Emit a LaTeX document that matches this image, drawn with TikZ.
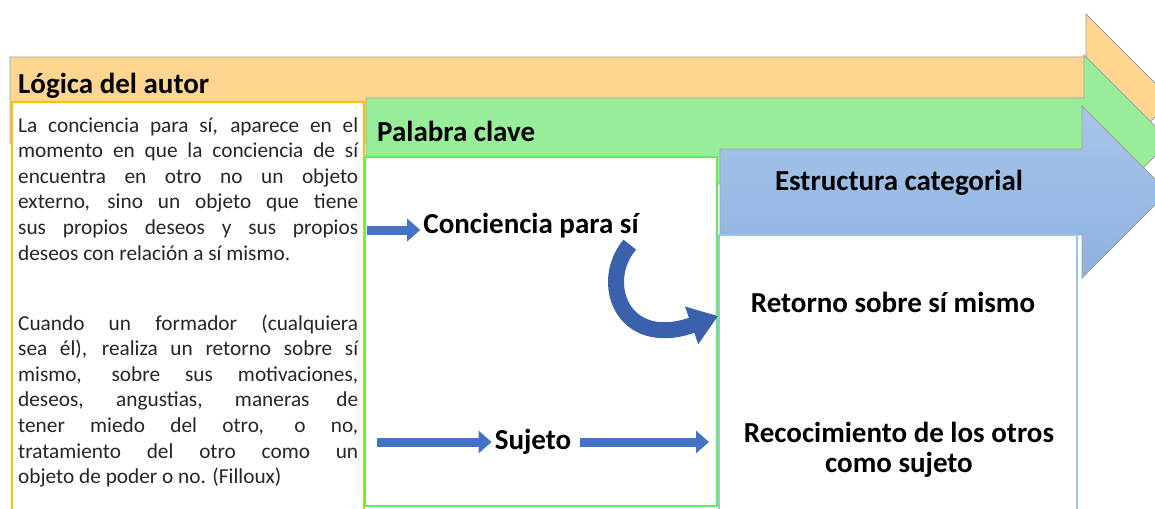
\documentclass[tikz,border=0pt]{standalone}
\usepackage{fontspec}
\setmainfont{Carlito}
\usetikzlibrary{arrows.meta}
\definecolor{naranja}{HTML}{FFD68F}
\definecolor{verde}{HTML}{98EE98}
\definecolor{azulsup}{HTML}{A8C5EA}
\definecolor{azulinf}{HTML}{8DB2E0}
\definecolor{gris}{HTML}{A0A0A0}
\definecolor{ambar}{HTML}{FFC000}
\definecolor{verdelinea}{HTML}{5CF05C}
\definecolor{azullinea}{HTML}{9DC3E6}
\definecolor{flecha}{HTML}{4472C4}
\definecolor{flechaosc}{HTML}{3A62AC}
\definecolor{texto}{HTML}{262626}
\tolerance=10000
\hyphenpenalty=10000
% stage arrow: left x, centre y, head x, fill
\newcommand{\etapa}[4]{%
 \path[draw=gris,line width=.8pt,#4] (#1,#2-43) -- (#3,#2-43) -- (#3,#2-86) -- (#3+86,#2) -- (#3,#2+86) -- (#3,#2+43) -- (#1,#2+43) -- cycle;%
}
% white box under a stage: corner, corner, border colour
\newcommand{\caja}[3]{%
 \draw[fill=white,draw=#3,line width=1.3pt] (#1) rectangle (#2);%
}
\begin{document}
\begin{tikzpicture}[x=1pt,y=-1pt,
  titulo/.style={font=\fontsize{29}{30}\selectfont\bfseries,inner sep=0pt},
  concepto/.style={font=\fontsize{29}{30}\selectfont\bfseries,align=center,inner sep=3pt},
  parrafo/.style={font=\fontsize{21.3}{25.6}\selectfont,text=texto,text width=340pt,align=justify,anchor=base west,inner sep=0pt},
  flechita/.style={line width=9pt,flecha,-{Triangle[length=13pt,width=22pt]}},
  curva/.style={line width=16pt,flechaosc,-{Triangle[length=28pt,width=38pt]}}]
  \useasboundingbox (0,0) rectangle (1155,508);
  \clip (0,0) rectangle (1155,508);
  \etapa{10}{100}{1086}{fill=naranja}
  \caja{12,102}{364,530}{ambar}
  \etapa{366}{141}{1084}{fill=verde}
  \caja{365,157}{717,506}{verdelinea}
  \etapa{720}{192}{1082}{top color=azulsup,bottom color=azulinf}
  \caja{719,235}{1077,530}{azullinea}
  \node[titulo,anchor=west] (logica) at (18,86) {Lógica del autor};
  \node[titulo,anchor=west] (palabra) at (377,131) {Palabra clave};
  \node[titulo] (estructura) at (899,183) {Estructura categorial};
  \node[parrafo] (p1) at (18,132) {La conciencia para sí, aparece en el\linebreak
    momento en que la conciencia de sí\linebreak
    encuentra en otro no un objeto\linebreak
    externo, sino un objeto que tiene\linebreak
    sus propios deseos y sus propios\linebreak
    deseos con relación a sí mismo.};
  \node[parrafo] (p2) at (18,330) {Cuando un formador (cualquiera\linebreak
    sea él), realiza un retorno sobre sí\linebreak
    mismo, sobre sus motivaciones,\linebreak
    deseos, angustias, maneras de\linebreak
    tener miedo del otro, o no,\linebreak
    tratamiento del otro como un\linebreak
    objeto de poder o no. (Filloux)};
  \node[concepto] (conc) at (531,226) {Conciencia para sí};
  \node[concepto] (suj) at (533,442) {Sujeto};
  \node[concepto] (retorno) at (893,302) {Retorno sobre sí mismo};
  \node[concepto] (recon) at (899,450) {Recocimiento de los otros\\como sujeto};
  \coordinate (e1) at (367,230);
  \coordinate (e2) at (377,442);
  \coordinate (s2) at (709,442);
  \coordinate (s1) at (718,316);
  \draw[flechita] (e1) -- (e1 -| conc.west);
  \draw[flechita] (e2) -- (suj.west);
  \draw[flechita] ([xshift=6pt]suj.east) -- (s2);
  \draw[curva] ([xshift=-12pt,yshift=-3pt]conc.south east) .. controls (598,282) and (622,350) .. (s1);
\end{tikzpicture}
\end{document}
